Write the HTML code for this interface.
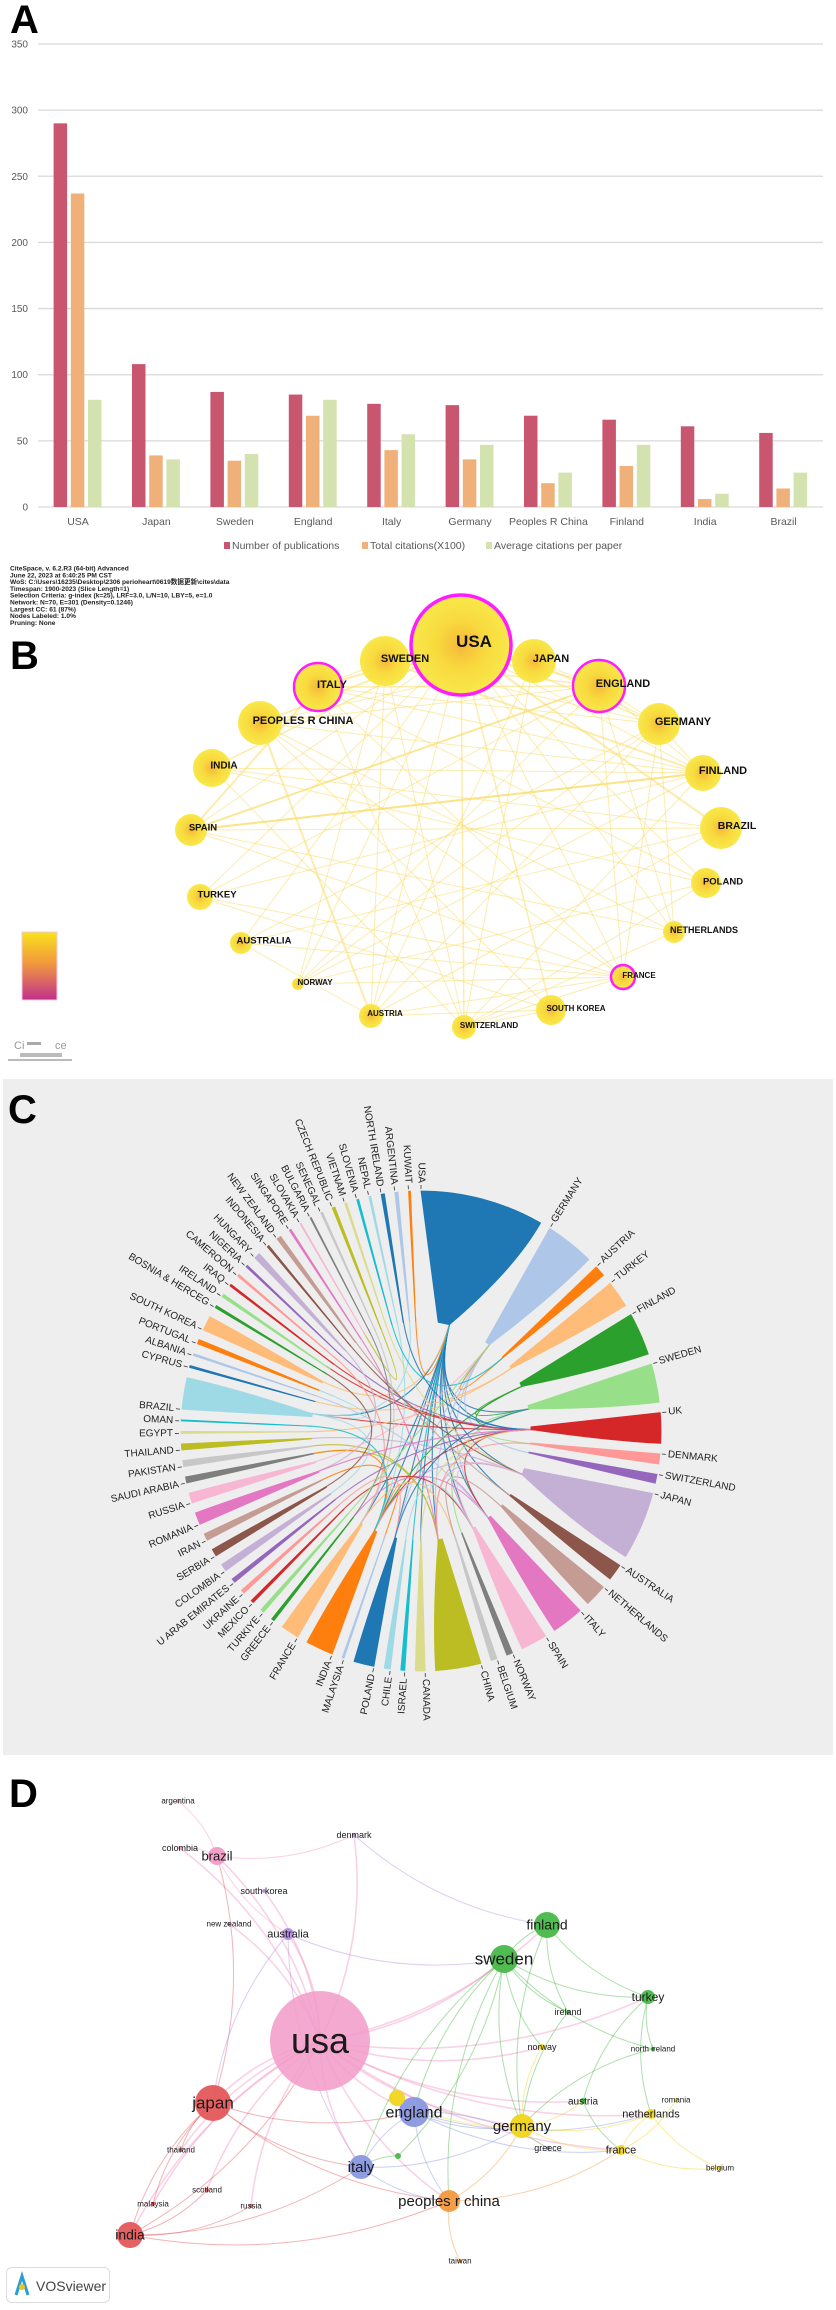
<!DOCTYPE html>
<html><head><meta charset="utf-8">
<style>
html,body{margin:0;padding:0;background:#fff;}
svg{display:block;font-family:"Liberation Sans","Noto Sans CJK SC",sans-serif;}
</style></head>
<body>
<svg id="fig" width="836" height="2310" viewBox="0 0 836 2310" xmlns="http://www.w3.org/2000/svg">
<defs>
<linearGradient id="cbar" x1="0" y1="0" x2="0" y2="1"><stop offset="0" stop-color="#f8e21c"/><stop offset="0.45" stop-color="#f29a3c"/><stop offset="1" stop-color="#c2308c"/></linearGradient>
<radialGradient id="ynode"><stop offset="0" stop-color="#f6b83a"/><stop offset="0.5" stop-color="#f8da3e"/><stop offset="1" stop-color="#f9e84a"/></radialGradient>
</defs>
<text x="10" y="33" font-size="40" font-weight="bold">A</text>
<g id="pa"></g>
<g id="info" font-size="6.6" font-weight="bold" fill="#222"></g>
<text x="10" y="669" font-size="40" font-weight="bold">B</text>
<g id="pb"></g>
<rect x="22" y="932" width="35" height="68" fill="url(#cbar)" stroke="#f5c6e6" stroke-width="1"/>
<g fill="#999" font-size="11">
<text x="14" y="1049">Ci</text><rect x="27" y="1042" width="14" height="3" fill="#aaa"/><text x="55" y="1049">ce</text>
<rect x="20" y="1053" width="42" height="4" fill="#bbb"/><rect x="8" y="1059" width="64" height="2" fill="#bbb"/>
</g>
<rect x="3" y="1079" width="830" height="676" fill="#eeeeee"/>
<text x="8" y="1123" font-size="40" font-weight="bold">C</text>
<g id="pc"></g>
<text x="9" y="1807" font-size="40" font-weight="bold">D</text>
<g id="pd"></g>
<g>
<rect x="6.5" y="2267.5" width="103" height="35" rx="5" fill="#fff" stroke="#ddd"/>
<path d="M16 2295 L22 2276 L28 2295" fill="none" stroke="#2a9fd6" stroke-width="3"/>
<circle cx="22" cy="2287" r="3" fill="#f0c419"/>
<text x="36" y="2291" font-size="14" fill="#444">VOSviewer</text>
</g>
</svg>
<script>
const NS="http://www.w3.org/2000/svg";
function mk(tag,parent){const e=document.createElementNS(NS,tag);parent.appendChild(e);return e;}
function at(e,o){for(const k in o)e.setAttribute(k,o[k]);return e;}

/* ---------- Panel A data ---------- */
const aCats=["USA","Japan","Sweden","England","Italy","Germany","Peoples R China","Finland","India","Brazil"];
const aPubs=[290,108,87,85,78,77,69,66,61,56];
const aCites=[237,39,35,69,43,36,18,31,6,14];
const aAvg=[81,36,40,81,55,47,26,47,10,26];
const aTicks=[0,50,100,150,200,250,300,350];
const aSeries=["Number of publications","Total citations(X100)","Average citations per paper"];

(function(){
const g=document.getElementById("pa");
const y=v=>507-v*(463/350);
const x=i=>78+i*78.4;
aTicks.forEach(t=>{
  const l=mk("line",g);at(l,{x1:38,x2:823,y1:y(t),y2:y(t),stroke:"#d9d9d9","stroke-width":1.3});
  
  
  const tx=mk("text",g);at(tx,{x:28,y:y(t)+3.5,"text-anchor":"end","font-size":10,fill:"#595959"});tx.textContent=t;
  
  
});
const cols=["#c8566f","#f0b07a","#d3e2ae"];
const offs=[-24.4,-7.2,10];
[aPubs,aCites,aAvg].forEach((s,k)=>{
  s.forEach((v,i)=>{
    const r=mk("rect",g);at(r,{x:x(i)+offs[k],y:y(v),width:13.5,height:507-y(v),fill:cols[k]});
    
    
  });
});
aCats.forEach((c,i)=>{
  const t=mk("text",g);at(t,{x:x(i),y:525,"text-anchor":"middle","font-size":10.5,fill:"#595959"});t.textContent=c;
  
  
});
const lx=[224,362,486];
aSeries.forEach((s,k)=>{
  const r=mk("rect",g);at(r,{x:lx[k],y:542,width:6,height:7,fill:cols[k]});
  
  
  const t=mk("text",g);at(t,{x:lx[k]+8,y:549,"font-size":10.5,fill:"#595959"});t.textContent=s;
  
  
});
})();

/* ---------- Info text ---------- */
const infoLines=["CiteSpace, v. 6.2.R3 (64-bit) Advanced","June 22, 2023 at 6:40:25 PM CST","WoS: C:\\Users\\16235\\Desktop\\2306 perioheart\\0619数据更新\\cites\\data","Timespan: 1900-2023 (Slice Length=1)","Selection Criteria: g-index (k=25), LRF=3.0, L/N=10, LBY=5, e=1.0","Network: N=70, E=301 (Density=0.1246)","Largest CC: 61 (87%)","Nodes Labeled: 1.0%","Pruning: None"];
(function(){
const g=document.getElementById("info");
infoLines.forEach((s,i)=>{
  const t=mk("text",g);at(t,{x:10,y:570.5+i*6.8});t.textContent=s;
  
  
});
})();

/* ---------- Panel B ---------- */
const bNames=["USA","SWEDEN","JAPAN","ITALY","ENGLAND","PEOPLES R CHINA","GERMANY","INDIA","FINLAND","SPAIN","BRAZIL","TURKEY","POLAND","AUSTRALIA","NETHERLANDS","NORWAY","FRANCE","AUSTRIA","SWITZERLAND","SOUTH KOREA"];
const bX=[461,385,534,318,599,260,659,212,703,191,721,200,706,241,674,298,623,371,464,551];
const bY=[645,661,661,687,686,723,724,768,773,830,828,897,883,943,932,984,977,1016,1027,1010];
const bR=[50,25,22,24,26,22,21,19,18,16,21,13,15,11,11,6,12,12,12,15];
const bLX=[474,405,551,332,623,303,683,224,723,203,737,217,723,264,704,315,639,385,489,576];
const bLY=[641,658,658,684,683,720,721,765,770,827,825,894,881,940,930,982,975,1013,1025,1008];
const bFont=[17,11,11,11,11,11,11,10,11,9.5,10.5,9.5,9.5,9.5,9,8,8,8,8,8];
const bHub=[1,0,0,1,1,0,0,0,0,0,0,0,0,0,0,0,1,0,0,0];
const bEdges=[[0,1],[0,2],[0,3],[0,4],[0,5],[0,6],[0,7],[0,8],[0,9],[0,10],[0,11],[0,12],[0,13],[0,14],[0,15],[0,16],[0,17],[0,18],[0,19],[1,4],[1,8],[1,6],[1,15],[1,17],[1,18],[1,3],[2,4],[2,5],[2,6],[2,17],[2,18],[3,4],[3,6],[3,9],[3,16],[3,18],[3,12],[4,6],[4,9],[4,14],[4,16],[4,8],[4,5],[4,15],[4,11],[5,8],[5,17],[5,19],[6,8],[6,14],[6,16],[6,17],[6,13],[6,15],[7,8],[7,10],[8,9],[8,11],[8,15],[8,18],[9,14],[9,16],[9,10],[10,17],[10,13],[11,16],[11,19],[12,18],[12,15],[13,17],[14,18],[15,16],[16,18],[16,17],[17,19],[18,19],[9,4],[9,8],[5,14],[7,18],[3,8],[5,16],[7,12],[13,16]];
const bW=[3,2,2,2,2,1.5,1.5,1,1,2,1,1,1,1,1,1,1,1.5,1.5,1.5,2,1,1,1,1,1,1,1,1,1,1,1.5,1,2,1,1,1,1,1,1,1,1,1,1,1,1,2,1,1,1,1,1,1,1,1,1,2,1,1,1,1,1,1,1,1,1,1,1,1,1,1,1,1,1,1,1,2,2,1,1,1,1,1,1];
(function(){
const g=document.getElementById("pb");
bEdges.forEach((e,k)=>{
  const l=mk("line",g);at(l,{x1:bX[e[0]],y1:bY[e[0]],x2:bX[e[1]],y2:bY[e[1]],stroke:"#f9dc6a","stroke-opacity":0.55,"stroke-width":bW[k]||1});
  
  
});
bNames.forEach((n,i)=>{
  const c=mk("circle",g);at(c,{cx:bX[i],cy:bY[i],r:bR[i],fill:"url(#ynode)"});
  if(bHub[i]) at(c,{stroke:"#ff1dff","stroke-width":i==0?3.5:2.5});
  
  
});
bNames.forEach((n,i)=>{
  const t=mk("text",g);at(t,{x:bLX[i],y:bLY[i]+bFont[i]*0.36,"text-anchor":"middle","font-size":bFont[i],"font-weight":"bold",fill:"#111"});t.textContent=n;
  
  
});
})();

/* ---------- Panel C chord ---------- */
const cNames=["USA","GERMANY","AUSTRIA","TURKEY","FINLAND","SWEDEN","UK","DENMARK","SWITZERLAND","JAPAN","AUSTRALIA","NETHERLANDS","ITALY","SPAIN","NORWAY","BELGIUM","CHINA","CANADA","ISRAEL","CHILE","POLAND","MALAYSIA","INDIA","FRANCE","GREECE","TURKIYE","MEXICO","UKRAINE","U ARAB EMIRATES","COLOMBIA","SERBIA","IRAN","ROMANIA","RUSSIA","SAUDI ARABIA","PAKISTAN","THAILAND","EGYPT","OMAN","BRAZIL","CYPRUS","ALBANIA","PORTUGAL","SOUTH KOREA","BOSNIA & HERCEG","IRELAND","IRAQ","CAMEROON","NIGERIA","HUNGARY","INDONESIA","NEW ZEALAND","SINGAPORE","SLOVAKIA","BULGARIA","SENEGAL","CZECH REPUBLIC","VIETNAM","SLOVENIA","NEPAL","NORTH IRELAND","ARGENTINA","KUWAIT"];
const cValues=[30.5,12.2,2.7,6.6,10.5,9.5,7.5,2.5,2.2,16.8,4.1,5.5,7.9,6.5,1.5,1.5,11.2,2.4,1,1.5,5,0.5,6.8,4.5,0.7,0.9,0.7,0.9,1,1.8,1.8,1.7,3,2.5,1.5,1.5,1.5,0.5,0.3,7.8,0.5,0.5,1.1,3.6,0.6,0.7,0.5,0.5,0.5,1.5,0.5,1.1,0.5,0.3,0.3,0.5,0.7,0.5,0.5,0.5,0.8,0.8,0.5];
const cLinks=[["USA","UK"],["USA","JAPAN"],["USA","CHINA"],["USA","ITALY"],["USA","INDIA"],["USA","BRAZIL"],["USA","SPAIN"],["USA","FRANCE"],["USA","POLAND"],["USA","AUSTRALIA"],["USA","CANADA"],["USA","SWEDEN"],["GERMANY","ITALY"],["GERMANY","CHINA"],["GERMANY","SWITZERLAND"],["GERMANY","POLAND"],["FINLAND","SWEDEN"],["FINLAND","UK"],["FINLAND","INDIA"],["SWEDEN","NORWAY"],["SWEDEN","DENMARK"],["UK","IRELAND"],["UK","INDIA"],["UK","BRAZIL"],["UK","ITALY"],["JAPAN","CHINA"],["JAPAN","THAILAND"],["JAPAN","INDIA"],["ITALY","SPAIN"],["ITALY","GREECE"],["CHINA","PAKISTAN"],["CHINA","SAUDI ARABIA"],["INDIA","MALAYSIA"],["INDIA","SAUDI ARABIA"],["INDIA","IRAN"],["BRAZIL","PORTUGAL"],["BRAZIL","COLOMBIA"],["BRAZIL","ARGENTINA"],["SOUTH KOREA","USA"],["TURKEY","CYPRUS"],["TURKEY","EGYPT"],["IRAQ","UK"],["NIGERIA","UK"],["HUNGARY","ROMANIA"],["SERBIA","BOSNIA & HERCEG"],["NEW ZEALAND","AUSTRALIA"],["SINGAPORE","CHINA"],["CZECH REPUBLIC","SLOVAKIA"],["VIETNAM","JAPAN"],["NEPAL","INDIA"],["NORTH IRELAND","UK"],["KUWAIT","USA"],["MEXICO","SPAIN"],["U ARAB EMIRATES","UK"],["RUSSIA","GERMANY"],["CANADA","UK"],["ISRAEL","USA"],["CHILE","SPAIN"],["FRANCE","BELGIUM"],["NETHERLANDS","BELGIUM"],["AUSTRIA","GERMANY"],["ALBANIA","ITALY"],["CAMEROON","FRANCE"],["INDONESIA","JAPAN"],["OMAN","INDIA"],["SENEGAL","FRANCE"],["SLOVENIA","AUSTRIA"],["BULGARIA","GREECE"],["UKRAINE","POLAND"],["TURKIYE","GERMANY"],["ROMANIA","UK"],["POLAND","SWEDEN"],["SPAIN","JAPAN"],["DENMARK","CHINA"]];
const cPalette=["#1f77b4","#aec7e8","#ff7f0e","#ffbb78","#2ca02c","#98df8a","#d62728","#ff9896","#9467bd","#c5b0d5","#8c564b","#c49c94","#e377c2","#f7b6d2","#7f7f7f","#c7c7c7","#bcbd22","#dbdb8d","#17becf","#9edae5"];
(function(){
const g=document.getElementById("pc");
const cx=421,cy=1431,R=240,RI=110,gap=2.5;
const tot=cValues.reduce((a,b)=>a+b,0);
const k=(360-gap*cNames.length)/tot;
const P=(a,r)=>[cx+r*Math.sin(a*Math.PI/180),cy-r*Math.cos(a*Math.PI/180)];
const st=[],wd=[];let a=0;
cValues.forEach((v,i)=>{st.push(a);wd.push(v*k);a+=v*k+gap;});
const col=i=>cPalette[i%20];
const idx=n=>cNames.indexOf(n);
const gl=mk("g",g);


cLinks.forEach((l,j)=>{
  const s=idx(l[0]),t=idx(l[1]);
  const p1=P(st[s]+wd[s]*0.5,RI+5),p2=P(st[t]+wd[t]*0.5,RI+5);
  const p=mk("path",gl);at(p,{d:`M${p1[0]},${p1[1]} Q${cx},${cy} ${p2[0]},${p2[1]}`,fill:"none",stroke:col(s),"stroke-width":1.1,"stroke-opacity":0.85});
  
  
});
cNames.forEach((n,i)=>{
  const a0=st[i],w=wd[i],a1=a0+w;
  const o0=P(a0,R),o1=P(a1,R),t1=P(a0+w*0.5,RI),t0=P(a0+w*0.3,RI),c1=P(a1,(R+RI)/2+10);
  const big=w>180?1:0;
  const p=mk("path",g);at(p,{d:`M${o0[0]},${o0[1]} A${R},${R} 0 ${big} 1 ${o1[0]},${o1[1]} Q${c1[0]},${c1[1]} ${t1[0]},${t1[1]} L${t0[0]},${t0[1]} Z`,fill:col(i),stroke:col(i),"stroke-width":0.8});
  
  
  const tk1=P(a0,R+2),tk2=P(a0,R+6);
  const tk=mk("line",g);at(tk,{x1:tk1[0],y1:tk1[1],x2:tk2[0],y2:tk2[1],stroke:"#333","stroke-width":0.8});
  
  
  const lp=P(a0,R+8);
  const t=mk("text",g);
  const right=a0>1&&a0<180;
  at(t,{x:lp[0],y:lp[1],"font-size":10,fill:"#222","dominant-baseline":"central","text-anchor":right?"start":"end",transform:`rotate(${right?a0-90:a0+90} ${lp[0]} ${lp[1]})`});
  t.textContent=n;
  
  
});
})();

/* ---------- Panel D ---------- */
const dNames=["usa","japan","india","brazil","australia","denmark","south korea","new zealand","argentina","colombia","finland","sweden","turkey","ireland","north ireland","austria","england","italy","germany","netherlands","france","norway","romania","belgium","greece","peoples r china","taiwan","thailand","scotland","malaysia","russia","",""];
const dX=[320,213,130,217,288,354,264,229,178,180,547,504,648,568,653,583,414,361,522,651,621,542,676,720,548,449,460,181,207,153,251,397,398];
const dY=[2041,2103,2235,1856,1934,1835,1891,1924,1801,1848,1925,1959,1997,2012,2049,2101,2112,2167,2126,2114,2150,2047,2100,2168,2148,2201,2261,2150,2190,2204,2206,2098,2156];
const dR=[50,18,13,9,6,2,2,2,2,2,13,14,7,2,2,3,15,12,12,5,5,3,2,2,2,11,2,2,2,2,2,8,3];
const dCl=["pink","red","red","pink","purple","purple","purple","purple","pink","pink","green","green","green","green","green","green","blue","blue","yellow","yellow","yellow","yellow","yellow","yellow","blue","orange","orange","red","red","red","red","yellow","green"];
const dFont=[36,17,14,13,11,9,9,8,8,9,14,17,12,9,8,10,16,15,15,11,11,9,8,8,9,15,8,8,8,8,8,0,0];
const dLinks=[[0,1],[0,2],[0,3],[0,4],[0,10],[0,11],[0,16],[0,17],[0,18],[0,25],[0,20],[0,19],[0,21],[0,6],[0,7],[0,9],[0,5],[0,12],[0,15],[0,27],[0,28],[0,29],[0,30],[1,2],[1,17],[1,16],[1,25],[1,27],[1,29],[1,3],[2,25],[2,17],[2,28],[2,30],[2,0],[3,8],[3,9],[3,5],[3,4],[4,11],[4,17],[4,1],[5,10],[10,11],[10,12],[10,18],[10,13],[11,16],[11,18],[11,17],[11,12],[11,13],[11,14],[11,21],[11,25],[12,19],[12,14],[12,15],[16,17],[16,18],[16,20],[16,25],[16,19],[17,18],[17,25],[18,19],[18,20],[18,24],[18,15],[19,20],[19,23],[20,23],[20,22],[21,18],[25,26],[25,18],[25,20],[24,16],[31,18],[32,11],[32,17],[13,18],[14,18],[15,20]];
const dColors={pink:"#f29bc8",red:"#e4575a",green:"#48b848",blue:"#8a97e0",yellow:"#f1d51c",orange:"#f39a3e",purple:"#b58de0"};
(function(){
const g=document.getElementById("pd");
dLinks.forEach((l,j)=>{
  const s=l[0],t=l[1];
  const x1=dX[s],y1=dY[s],x2=dX[t],y2=dY[t];
  const mx=(x1+x2)/2,my=(y1+y2)/2,dx=x2-x1,dy=y2-y1;
  const qx=mx-dy*0.15,qy=my+dx*0.15;
  const p=mk("path",g);at(p,{d:`M${x1},${y1} Q${qx},${qy} ${x2},${y2}`,fill:"none",stroke:dColors[dCl[s]],"stroke-opacity":0.45,"stroke-width":s==0?1.6:1});
  
  
});
dNames.forEach((n,i)=>{
  const c=mk("circle",g);at(c,{cx:dX[i],cy:dY[i],r:dR[i],fill:dColors[dCl[i]],"fill-opacity":i==0?0.85:0.95});
  
  
});
dNames.forEach((n,i)=>{
  if(!n)return;
  const t=mk("text",g);at(t,{x:dX[i],y:dY[i]+dFont[i]*0.33,"text-anchor":"middle","font-size":dFont[i],fill:"#1a1a1a"});t.textContent=n;
  
  
});
})();
</script>
</body></html>
